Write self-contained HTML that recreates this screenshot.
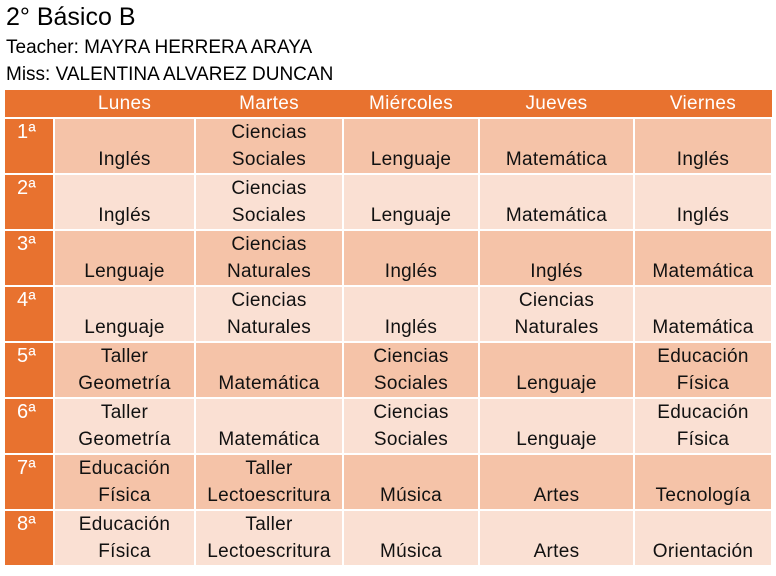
<!DOCTYPE html>
<html><head><meta charset="utf-8"><style>
body{margin:0;width:776px;height:576px;background:#fff;font-family:"Liberation Sans",sans-serif;position:relative;overflow:hidden}
.t{position:absolute;left:6px;color:#000}
table{position:absolute;left:5px;top:90px;border-collapse:collapse;table-layout:fixed}
td{border:2px solid #fff;padding:0;text-align:center;vertical-align:bottom;font-size:19px;line-height:27px;color:#111;letter-spacing:0.3px}
tr.h td{background:#E8722F;color:#fff;height:25px;line-height:27px;vertical-align:middle;border-left:none;border-right:none;border-top:none}
td.n{background:#E8722F;color:#fff;vertical-align:top;text-align:left;padding-left:12px;font-size:20px;line-height:26px;border-left:none}
tr.o td{background:#F5C3A8;height:52.6px}
tr.e td{background:#FAE0D3;height:52.6px}
tr.o td.n,tr.e td.n{background:#E8722F}
td.b{padding-bottom:0;line-height:28px}
</style></head><body>
<div class="t" style="top:3px;font-size:25px">2° Básico B</div>
<div class="t" style="top:37px;font-size:19px">Teacher: MAYRA HERRERA ARAYA</div>
<div class="t" style="top:64px;font-size:19px">Miss: VALENTINA ALVAREZ DUNCAN</div>
<table>
<colgroup><col style="width:49px"><col style="width:141px"><col style="width:148px"><col style="width:136px"><col style="width:155px"><col style="width:138px"></colgroup>
<tr class="h"><td></td><td>Lunes</td><td>Martes</td><td>Miércoles</td><td>Jueves</td><td>Viernes</td></tr>
<tr class="o"><td class="n">1ª</td><td>Inglés</td><td>Ciencias<br>Sociales</td><td>Lenguaje</td><td>Matemática</td><td>Inglés</td></tr>
<tr class="e"><td class="n">2ª</td><td>Inglés</td><td>Ciencias<br>Sociales</td><td>Lenguaje</td><td>Matemática</td><td>Inglés</td></tr>
<tr class="o"><td class="n">3ª</td><td>Lenguaje</td><td>Ciencias<br>Naturales</td><td>Inglés</td><td>Inglés</td><td>Matemática</td></tr>
<tr class="e"><td class="n">4ª</td><td>Lenguaje</td><td>Ciencias<br>Naturales</td><td>Inglés</td><td>Ciencias<br>Naturales</td><td>Matemática</td></tr>
<tr class="o"><td class="n">5ª</td><td>Taller<br>Geometría</td><td>Matemática</td><td>Ciencias<br>Sociales</td><td>Lenguaje</td><td>Educación<br>Física</td></tr>
<tr class="e"><td class="n">6ª</td><td>Taller<br>Geometría</td><td>Matemática</td><td>Ciencias<br>Sociales</td><td>Lenguaje</td><td>Educación<br>Física</td></tr>
<tr class="o"><td class="n">7ª</td><td>Educación<br>Física</td><td>Taller<br>Lectoescritura</td><td>Música</td><td>Artes</td><td>Tecnología</td></tr>
<tr class="e"><td class="n">8ª</td><td>Educación<br>Física</td><td>Taller<br>Lectoescritura</td><td>Música</td><td>Artes</td><td>Orientación</td></tr>
</table>
</body></html>
